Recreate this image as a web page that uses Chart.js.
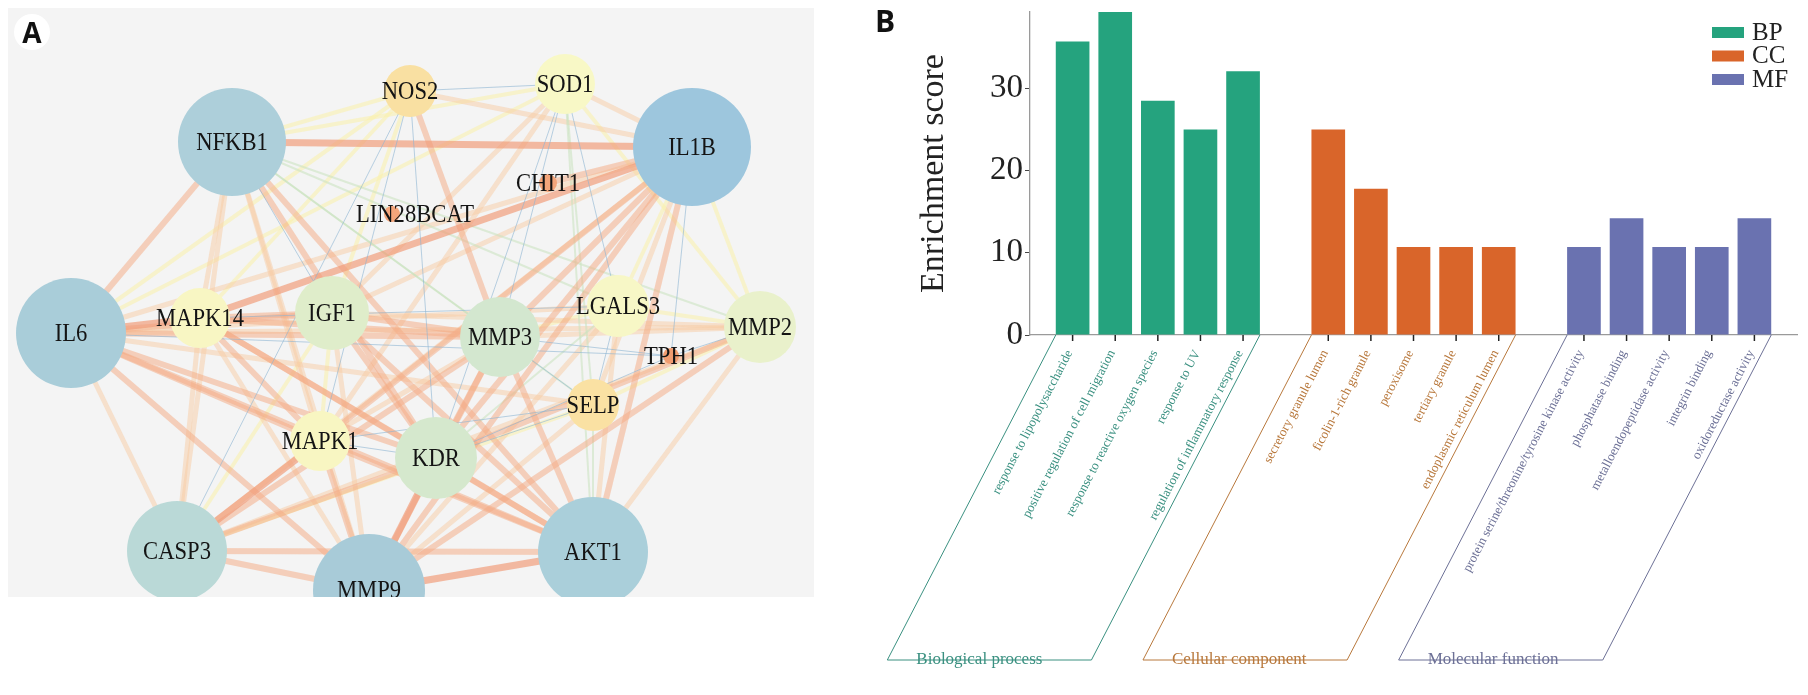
<!DOCTYPE html>
<html>
<head>
<meta charset="utf-8">
<script src="https://cdn.jsdelivr.net/npm/chart.js@4.4.0/dist/chart.umd.min.js"></script>
<style>
html, body { margin: 0; padding: 0; background: #fff; }
body { width: 1808px; height: 695px; position: relative; overflow: hidden; }
#netWrap { position: absolute; left: 8px; top: 8px; width: 806px; height: 589px; background: #f4f4f4; }
#barWrap { position: absolute; left: 820px; top: 0; width: 988px; height: 695px; }
.tag { position: absolute; font-family: "Open Sans", sans-serif; font-weight: 700; color: #111; }
#tagA { left: 14px; top: 14px; width: 36px; height: 36px; border-radius: 50%; background: #fff;
        font-size: 28px; display: flex; align-items: center; justify-content: center; }
#tagB { left: 875px; top: 6px; font-size: 30px; line-height: 30px; }
</style>
</head>
<body>
<div id="netWrap"><canvas id="netChart" width="806" height="589"></canvas></div>
<div id="barWrap"><canvas id="goChart" width="988" height="695"></canvas></div>
<div class="tag" id="tagA">A</div>
<div class="tag" id="tagB">B</div>

<script>
// ---- Panel A: PPI network ----
const nodeNames = ['IL6', 'NFKB1', 'IL1B', 'AKT1', 'MMP9', 'CASP3', 'MMP3', 'KDR', 'IGF1', 'MMP2',
                   'MAPK14', 'MAPK1', 'LGALS3', 'SOD1', 'NOS2', 'SELP', 'CHIT1', 'LIN28BCAT', 'TPH1'];
const nodeX = [71, 232, 692, 593, 369, 177, 500, 436, 332, 760, 200, 320, 618, 565, 410, 593, 548, 392, 671];
const nodeY = [333, 142, 147, 552, 590, 551, 337, 458, 313, 327, 318, 441, 306, 84, 91, 405, 183, 214, 356];
const nodeSize = [55, 54, 59, 55, 56, 50, 40, 41, 37, 36, 30, 30, 31, 30, 26, 26, 9, 8, 8];
const nodeColors = ['#a9cdd9', '#adcfda', '#9dc6dd', '#aacfda', '#a8cbd8', '#bad9d7', '#d3e7cf', '#d5e8cd',
                    '#dfedca', '#e9f1cb', '#f8f6c3', '#f8f6c2', '#f7f7c6', '#f8f8c6', '#f9e0a2', '#fae1a3',
                    '#f4a57a', '#f4a57a', '#f19c70'];

// [source, target, score class]
const edgeList = [
    ['NFKB1', 'IL1B', 's'], ['IL1B', 'MAPK14', 's'], ['AKT1', 'MMP9', 's'], ['CASP3', 'MAPK1', 's'],
    ['IL6', 'MAPK14', 's'], ['MMP9', 'KDR', 's'],
    ['IL6', 'NFKB1', 'm'], ['IL6', 'IGF1', 'm'], ['IL6', 'MMP3', 'm'], ['IL6', 'MAPK1', 'm'], ['IL6', 'KDR', 'm'],
    ['IL6', 'AKT1', 'm'], ['IL6', 'MMP9', 'm'], ['NFKB1', 'KDR', 'm'], ['NFKB1', 'AKT1', 'm'],
    ['IL1B', 'CHIT1', 'm'], ['IL1B', 'MAPK1', 'm'], ['IL1B', 'KDR', 'm'], ['IL1B', 'MMP9', 'm'], ['IL1B', 'AKT1', 'm'],
    ['IL1B', 'MMP3', 'm'], ['NOS2', 'MMP3', 'm'], ['AKT1', 'CASP3', 'm'], ['AKT1', 'MAPK14', 'm'], ['AKT1', 'MAPK1', 'm'],
    ['AKT1', 'KDR', 'm'], ['AKT1', 'IGF1', 'm'], ['AKT1', 'MMP3', 'm'], ['MMP9', 'CASP3', 'm'], ['MMP9', 'MAPK1', 'm'],
    ['MMP9', 'MMP3', 'm'], ['MMP9', 'MMP2', 'm'], ['CASP3', 'KDR', 'm'], ['CASP3', 'MMP3', 'm'], ['MAPK14', 'MAPK1', 'm'],
    ['MAPK14', 'KDR', 'm'], ['MAPK14', 'IGF1', 'm'], ['MAPK14', 'MMP3', 'm'], ['IGF1', 'MMP3', 'm'], ['IGF1', 'KDR', 'm'],
    ['KDR', 'MMP3', 'm'], ['KDR', 'MMP2', 'm'],
    ['IL6', 'LGALS3', 'l'], ['IL6', 'MMP2', 'l'], ['IL6', 'CASP3', 'l'], ['IL6', 'IL1B', 'l'], ['IL6', 'SELP', 'l'],
    ['NFKB1', 'MAPK14', 'l'], ['NFKB1', 'MAPK1', 'l'], ['NFKB1', 'CASP3', 'l'], ['NFKB1', 'MMP9', 'l'],
    ['IL1B', 'IGF1', 'l'], ['IL1B', 'CASP3', 'l'], ['IL1B', 'SELP', 'l'], ['IL1B', 'SOD1', 'l'], ['IL1B', 'NOS2', 'l'],
    ['SOD1', 'IGF1', 'l'], ['SOD1', 'MAPK1', 'l'], ['AKT1', 'MMP2', 'l'], ['AKT1', 'LGALS3', 'l'],
    ['MMP9', 'IGF1', 'l'], ['MMP9', 'MAPK14', 'l'], ['MMP9', 'LGALS3', 'l'], ['MMP9', 'SELP', 'l'],
    ['CASP3', 'MAPK14', 'l'], ['CASP3', 'MMP2', 'l'], ['IGF1', 'MMP2', 'l'], ['MAPK1', 'MMP3', 'l'], ['MMP3', 'MMP2', 'l'],
    ['IL6', 'SOD1', 'y'], ['IL6', 'NOS2', 'y'], ['NFKB1', 'SOD1', 'y'], ['NFKB1', 'NOS2', 'y'], ['IL1B', 'LGALS3', 'y'],
    ['IL1B', 'MMP2', 'y'], ['SOD1', 'MMP2', 'y'], ['NOS2', 'MAPK14', 'y'], ['NOS2', 'IGF1', 'y'], ['CASP3', 'IGF1', 'y'],
    ['CASP3', 'SELP', 'y'], ['IGF1', 'MAPK1', 'y'], ['MMP3', 'LGALS3', 'y'], ['LGALS3', 'MMP2', 'y'], ['SELP', 'MMP2', 'y'],
    ['NFKB1', 'MMP3', 'g'], ['NFKB1', 'LGALS3', 'g'], ['NFKB1', 'SELP', 'g'], ['NFKB1', 'MMP2', 'g'],
    ['SOD1', 'AKT1', 'g'], ['SOD1', 'SELP', 'g'], ['AKT1', 'SELP', 'g'], ['KDR', 'LGALS3', 'g'],
    ['NFKB1', 'IGF1', 'b'], ['SOD1', 'NOS2', 'b'], ['SOD1', 'MMP3', 'b'], ['SOD1', 'LGALS3', 'b'], ['SOD1', 'KDR', 'b'],
    ['NOS2', 'MAPK1', 'b'], ['NOS2', 'KDR', 'b'], ['NOS2', 'CASP3', 'b'], ['IL1B', 'TPH1', 'b'], ['MAPK1', 'KDR', 'b'],
    ['MAPK1', 'SELP', 'b'], ['KDR', 'SELP', 'b'], ['KDR', 'TPH1', 'b'], ['MMP3', 'TPH1', 'b'], ['MMP3', 'SELP', 'b'],
    ['LGALS3', 'SELP', 'b'], ['TPH1', 'MMP2', 'b'], ['IL6', 'TPH1', 'b'], ['MAPK14', 'LGALS3', 'b']
];

// ---- Panel B: GO enrichment ----
const bpTerms = ['response to lipopolysaccharide', 'positive regulation of cell migration',
                 'response to reactive oxygen species', 'response to UV', 'regulation of inflammatory response'];
const bpScores = [35.7, 39.3, 28.5, 25.0, 32.1];
const ccTerms = ['secretory granule lumen', 'ficolin-1-rich granule', 'peroxisome', 'tertiary granule',
                 'endoplasmic reticulum lumen'];
const ccScores = [25.0, 17.8, 10.7, 10.7, 10.7];
const mfTerms = ['protein serine/threonine/tyrosine kinase activity', 'phosphatase binding',
                 'metalloendopeptidase activity', 'integrin binding', 'oxidoreductase activity'];
const mfScores = [10.7, 14.2, 10.7, 10.7, 14.2];
const groupKeys = ['BP', 'CC', 'MF'];
const groupNames = ['Biological process', 'Cellular component', 'Molecular function'];
const yTicks = [0, 10, 20, 30];

// network chart
const edgeStyle = {
    s: { color: 'rgba(240,155,120,0.68)', width: 7, order: 2 },
    m: { color: 'rgba(243,170,132,0.52)', width: 6, order: 3 },
    l: { color: 'rgba(248,204,164,0.5)', width: 5, order: 5 },
    y: { color: 'rgba(250,240,170,0.55)', width: 4, order: 6 },
    g: { color: 'rgba(200,226,190,0.55)', width: 2, order: 4 },
    b: { color: 'rgba(140,180,210,0.6)', width: 1, order: 1 }
};
const labelShift = { LIN28BCAT: 23 };

const edgeSets = edgeList.map(([a, b, k]) => {
    const i = nodeNames.indexOf(a);
    const j = nodeNames.indexOf(b);
    return {
        type: 'line',
        data: [{ x: nodeX[i], y: nodeY[i] }, { x: nodeX[j], y: nodeY[j] }],
        borderColor: edgeStyle[k].color,
        borderWidth: edgeStyle[k].width,
        pointRadius: 0,
        fill: false,
        order: edgeStyle[k].order
    };
});

const nodeLabels = {
    id: 'nodeLabels',
    afterDatasetsDraw(chart) {
        const meta = chart.getDatasetMeta(0);
        const ctx = chart.ctx;
        ctx.save();
        ctx.font = '26px "Liberation Serif"';
        ctx.fillStyle = '#141414';
        ctx.textAlign = 'center';
        ctx.textBaseline = 'middle';
        meta.data.forEach((pt, i) => {
            ctx.save();
            ctx.translate(pt.x + (labelShift[nodeNames[i]] || 0), pt.y + 1);
            ctx.scale(0.87, 1);
            ctx.fillText(nodeNames[i], 0, 0);
            ctx.restore();
        });
        ctx.restore();
    }
};

new Chart(document.getElementById('netChart'), {
    type: 'scatter',
    data: {
        datasets: [{
            type: 'bubble',
            data: nodeNames.map((n, i) => ({ x: nodeX[i], y: nodeY[i], r: nodeSize[i] })),
            backgroundColor: nodeColors,
            borderWidth: 0,
            order: 0
        }].concat(edgeSets)
    },
    options: {
        responsive: false,
        animation: false,
        events: [],
        layout: { padding: 0, autoPadding: false },
        scales: {
            x: { type: 'linear', display: false, min: 8, max: 814 },
            y: { type: 'linear', display: false, min: 8, max: 597, reverse: true }
        },
        plugins: { legend: { display: false }, tooltip: { enabled: false } }
    },
    plugins: [nodeLabels]
});

// bar chart
const groups = [
    { terms: bpTerms, scores: bpScores, fill: '#25a37e', ink: '#3a9080' },
    { terms: ccTerms, scores: ccScores, fill: '#d9652a', ink: '#b8783c' },
    { terms: mfTerms, scores: mfScores, fill: '#6a72b0', ink: '#6c7096' }
];
const slotOf = (g, i) => g * 6 + i;
const yMax = Math.max(...bpScores, ...ccScores, ...mfScores);

const goDecor = {
    id: 'goDecor',
    afterDraw(chart) {
        const ctx = chart.ctx;
        const xs = chart.scales.x;
        const base = chart.scales.y.getPixelForValue(0);
        const half = chart.getDatasetMeta(0).data[0].width / 2;
        const ang = 62.6 * Math.PI / 180;
        const drop = 325;
        const shift = drop / Math.tan(ang);
        ctx.save();
        groups.forEach((g, gi) => {
            // ticks and rotated term labels
            g.terms.forEach((t, i) => {
                const px = xs.getPixelForValue(slotOf(gi, i));
                ctx.strokeStyle = '#222';
                ctx.lineWidth = 1.5;
                ctx.beginPath();
                ctx.moveTo(px, base);
                ctx.lineTo(px, base + 6);
                ctx.stroke();
                ctx.save();
                ctx.translate(px - 3, base + 16);
                ctx.rotate(-ang);
                ctx.font = '13px "Liberation Serif"';
                ctx.fillStyle = g.ink;
                ctx.textAlign = 'right';
                ctx.textBaseline = 'middle';
                ctx.fillText(t, 0, 0);
                ctx.restore();
            });
            // slanted bracket
            const x0 = xs.getPixelForValue(slotOf(gi, 0)) - half;
            const x1 = xs.getPixelForValue(slotOf(gi, g.terms.length - 1)) + half;
            ctx.strokeStyle = g.ink;
            ctx.lineWidth = 1;
            ctx.beginPath();
            ctx.moveTo(x0, base);
            ctx.lineTo(x0 - shift, base + drop);
            ctx.lineTo(x1 - shift, base + drop);
            ctx.lineTo(x1, base);
            ctx.stroke();
            ctx.font = '17px "Liberation Serif"';
            ctx.fillStyle = g.ink;
            ctx.textAlign = 'left';
            ctx.textBaseline = 'middle';
            ctx.fillText(groupNames[gi], x0 - shift + 29, base + drop);
        });
        // legend
        const lx = chart.chartArea.right - 85;
        const ly = chart.chartArea.top + 15;
        chart.data.datasets.forEach((ds, i) => {
            const y = ly + i * 23.5;
            ctx.fillStyle = ds.backgroundColor;
            ctx.fillRect(lx, y, 32, 11);
            ctx.font = '25px "Liberation Serif"';
            ctx.fillStyle = '#222';
            ctx.textAlign = 'left';
            ctx.textBaseline = 'middle';
            ctx.fillText(ds.label, lx + 40, y + 6);
        });
        ctx.restore();
    }
};

new Chart(document.getElementById('goChart'), {
    type: 'bar',
    data: {
        datasets: groups.map((g, gi) => ({
            label: groupKeys[gi],
            data: g.scores.map((v, i) => ({ x: slotOf(gi, i), y: v })),
            backgroundColor: g.fill,
            grouped: false,
            categoryPercentage: 0.79,
            barPercentage: 1
        }))
    },
    options: {
        responsive: false,
        animation: false,
        events: [],
        layout: { padding: { left: 90, right: 11, top: 12, bottom: 360 } },
        scales: {
            x: {
                type: 'linear', min: -1, max: 17, offset: false,
                ticks: { display: false, stepSize: 1 },
                grid: { display: false },
                border: { display: true, color: '#9a9a9a', width: 1.3 },
                afterFit: s => { s.height = 0; s.paddingLeft = 0; s.paddingRight = 0; }
            },
            y: {
                min: 0, max: yMax,
                afterBuildTicks: s => { s.ticks = yTicks.map(v => ({ value: v })); },
                afterFit: s => { s.width = 120; s.paddingTop = 0; s.paddingBottom = 0; },
                border: { display: true, color: '#9a9a9a', width: 1.3 },
                grid: { display: true, drawOnChartArea: false, drawTicks: true, tickLength: 5, color: '#444' },
                ticks: { font: { family: 'Liberation Serif', size: 33 }, color: '#222', padding: 2 },
                title: { display: true, text: 'Enrichment score', color: '#222',
                         font: { family: 'Liberation Serif', size: 34 } }
            }
        },
        plugins: { legend: { display: false }, tooltip: { enabled: false } }
    },
    plugins: [goDecor]
});
</script>
</body>
</html>
